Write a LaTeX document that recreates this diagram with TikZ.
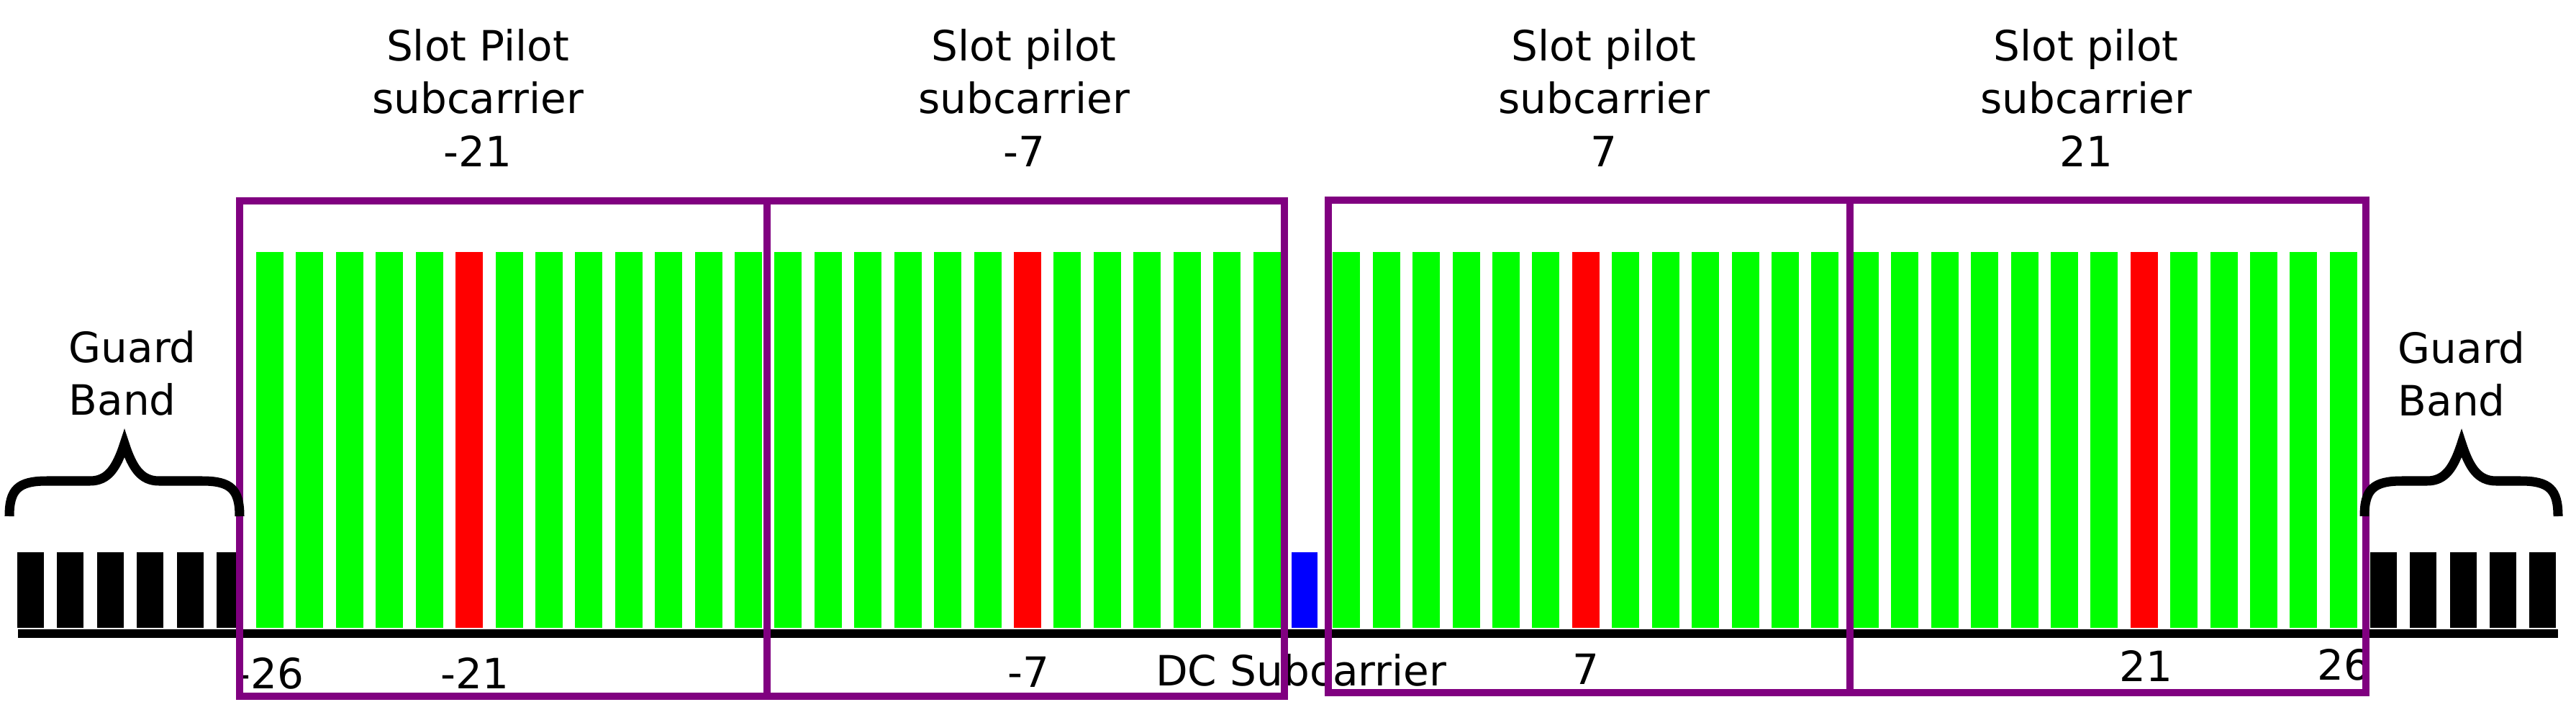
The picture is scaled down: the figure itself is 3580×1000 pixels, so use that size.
\documentclass[tikz,border=0pt]{standalone}
\usepackage{fontspec}
\setmainfont{DejaVu Sans}
\definecolor{cgreen}{HTML}{00FF00}
\definecolor{cred}{HTML}{FF0000}
\definecolor{cblue}{HTML}{0000FF}
\definecolor{cpurple}{HTML}{800080}
\begin{document}
\begin{tikzpicture}[x=0.01cm,y=-0.01cm,
  txt/.style={inner sep=0pt, font=\fontsize{16.5}{20.8}\selectfont},
  title/.style={txt, anchor=north, align=center},
  lbl/.style={txt, anchor=base},
  slotbox/.style={draw=cpurple, line width=2.85pt},
  bracestyle/.style={draw=black, line width=3.7pt},
  axis/.style={draw=black, line width=3.6pt}]
\useasboundingbox (0,0) rectangle (3580,1000);
% guard band bars
\foreach \k in {-32,...,-27,27,28,...,31}{
  \pgfmathsetmacro{\c}{375+(\k+26)*55.42}
  \fill[black] ({\c-18.5},767) rectangle ({\c+18.5},872);
}
% data subcarriers
\foreach \k in {-26,...,-1,1,2,...,26}{
  \pgfmathsetmacro{\c}{375+(\k+26)*55.42}
  \fill[cgreen] ({\c-19},350) rectangle ({\c+19},872);
}
% pilot subcarriers
\foreach \k in {-21,-7,7,21}{
  \pgfmathsetmacro{\c}{375+(\k+26)*55.42}
  \fill[cred] ({\c-19},350) rectangle ({\c+19},872);
}
% DC subcarrier
\fill[cblue] (1795,767) rectangle (1831,872);
% axis
\coordinate (axL) at (25,880);
\coordinate (axR) at (3555,880);
\draw[axis] (axL) -- (axR);
% axis labels
\node[lbl] (l26n) at (375,956) {-26};
\node[lbl] (l21n) at (660,956) {-21};
\node[lbl] (l7n) at (1429,954) {-7};
\node[lbl] (ldc) at (1808,952) {DC Subcarrier};
\node[lbl] (l7) at (2204,950) {7};
\node[lbl] (l21) at (2982,946) {21};
\node[lbl] (l26) at (3257,944) {26};
% slot boxes
\draw[slotbox] (333,279) rectangle (1066,967);
\draw[slotbox] (1066,279) rectangle (1785,967);
\draw[slotbox] (1846,278) rectangle (2571,962);
\draw[slotbox] (2571,278) rectangle (3288,962);
% braces
\draw[bracestyle] (13,717) .. controls (13,680) and (25,668) .. (65,668) -- (125,668)
  .. controls (150,668) and (162,650) .. (173,616)
  .. controls (184,650) and (196,668) .. (221,668) -- (281,668)
  .. controls (321,668) and (333,680) .. (333,717);
\draw[bracestyle] (3286,717) .. controls (3286,680) and (3298,668) .. (3338,668) -- (3373,668)
  .. controls (3398,668) and (3410,650) .. (3421,616)
  .. controls (3432,650) and (3444,668) .. (3469,668) -- (3503,668)
  .. controls (3543,668) and (3555,680) .. (3555,717);
% titles
\node[title] (t1) at (664,40) {Slot Pilot\\subcarrier\\-21};
\node[title] (t2) at (1423,40) {Slot pilot\\subcarrier\\-7};
\node[title] (t3) at (2229,40) {Slot pilot\\subcarrier\\7};
\node[title] (t4) at (2899,40) {Slot pilot\\subcarrier\\21};
% guard band labels
\node[txt, anchor=north west, align=left] (gL) at (95,459) {Guard\\Band};
\node[txt, anchor=north west, align=left] (gR) at (3332,460) {Guard\\Band};
\end{tikzpicture}
\end{document}
